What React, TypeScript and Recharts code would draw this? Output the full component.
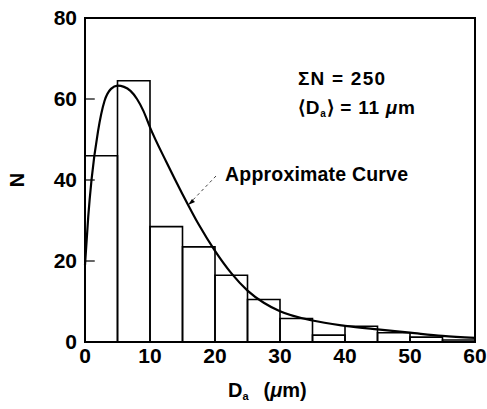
import { ComposedChart, Line, XAxis, YAxis, ReferenceArea, ReferenceLine, Label } from 'recharts';

// histogram bins (5 µm wide)
const binStarts = [0, 5, 10, 15, 20, 25, 30, 35, 40, 45, 50, 55];
const binCounts = [46, 64.5, 28.5, 23.5, 16.5, 10.5, 5.8, 1.7, 3.9, 2.3, 1.2, 0.5];
const binWidth = 5;

// approximate curve, sampled by eye
const curveX = [0, 0.5, 1, 2, 3, 4, 5, 6, 7, 8, 9, 10, 12.5, 15, 17.5, 20, 22.5, 25, 27.5, 30, 35, 40, 45, 50, 55, 60];
const curveN = [19, 31, 40, 52, 59.5, 62.5, 63.3, 63, 62, 60, 57, 53, 44.5, 36.5, 29, 22.5, 17, 12.7, 9.7, 7.6, 5.3, 4, 3.1, 2.3, 1.5, 1];

const xTicks = [0, 10, 20, 30, 40, 50, 60];
const yTicks = [0, 20, 40, 60, 80];
const innerYTicks = [20, 40, 60];

const FONT = '"Liberation Sans", Arial, Helvetica, sans-serif';

const curveData = curveX.map((x, i) => ({ x, n: curveN[i] }));

function XTick({ x, y, payload }: any) {
  return (
    <text x={x} y={y} dy="0.71em" textAnchor="middle" fontFamily={FONT} fontWeight="bold" fontSize={21} fill="#000">
      {payload.value}
    </text>
  );
}

function YTick({ x, y, payload }: any) {
  return (
    <text x={x} y={y} dy="0.355em" textAnchor="end" fontFamily={FONT} fontWeight="bold" fontSize={21} fill="#000">
      {payload.value}
    </text>
  );
}

function XTitle({ viewBox }: any) {
  const x = viewBox.x + 143;
  const y = viewBox.y + 55;
  return (
    <text x={x} y={y} fontFamily={FONT} fontWeight="bold" fontSize={20} fill="#000">
      D
      <tspan fontSize={11} dy={3}>a</tspan>
      <tspan dy={-3} dx={15}>(</tspan>
      <tspan fontStyle="italic">μ</tspan>
      <tspan>m)</tspan>
    </text>
  );
}

function YTitle() {
  return (
    <text x={17} y={180} transform="rotate(-90, 17, 180)" textAnchor="middle" dominantBaseline="central"
      fontFamily={FONT} fontWeight="bold" fontSize={20} fill="#000">
      N
    </text>
  );
}

export default function App() {
  return (
    <div style={{ position: 'absolute', left: 0, top: 0, width: 487, height: 409, background: '#fff' }}>
      <ComposedChart width={487} height={409} data={curveData} margin={{ top: 18, right: 12, left: 0, bottom: 0 }}>
        <XAxis
          dataKey="x"
          type="number"
          domain={[0, 60]}
          ticks={xTicks}
          height={67}
          tickSize={0}
          tickMargin={6}
          axisLine={false}
          tick={<XTick />}
        >
          <Label content={<XTitle />} />
        </XAxis>
        <YAxis
          type="number"
          domain={[0, 80]}
          ticks={yTicks}
          width={85}
          tickSize={0}
          tickMargin={8}
          axisLine={false}
          tick={<YTick />}
        >
          <Label content={<YTitle />} />
        </YAxis>
        {binStarts.map((start, i) => (
          <ReferenceArea
            key={start}
            x1={start}
            x2={start + binWidth}
            y1={0}
            y2={binCounts[i]}
            fill="none"
            stroke="#000"
            strokeWidth={1.6}
          />
        ))}
        <ReferenceArea x1={0} x2={60} y1={0} y2={80} fill="none" stroke="#000" strokeWidth={2} />
        {/* short inward tick marks on the left axis */}
        {innerYTicks.map((v) => (
          <ReferenceLine key={v} segment={[{ x: 0, y: v }, { x: 1.5, y: v }]} stroke="#000" strokeWidth={1.2} />
        ))}
        <Line
          type="monotone"
          dataKey="n"
          stroke="#000"
          strokeWidth={2.2}
          dot={false}
          isAnimationActive={false}
        />
      </ComposedChart>
      <svg width={487} height={409} style={{ position: 'absolute', left: 0, top: 0, pointerEvents: 'none' }}>
        <text x={298} y={85} fontFamily={FONT} fontWeight="bold" fontSize={19} fill="#000" textLength={87}>
          ΣN = 250
        </text>
        <text x={298} y={114} fontFamily={FONT} fontWeight="bold" fontSize={19} fill="#000" textLength={117}>
          ⟨D<tspan fontSize={10} dy={3}>a</tspan><tspan dy={-3}>⟩ = 11 </tspan>
          <tspan fontStyle="italic">μ</tspan>m
        </text>
        <text x={225} y={181} fontFamily={FONT} fontWeight="bold" fontSize={19.5} fill="#000" textLength={183}>
          Approximate Curve
        </text>
        <line x1={216} y1={176} x2={190} y2={203} stroke="#444" strokeWidth={1} strokeDasharray="3 3" />
        <path d="M188,205 L195,202 L192,199 Z" fill="#000" />
      </svg>
    </div>
  );
}
